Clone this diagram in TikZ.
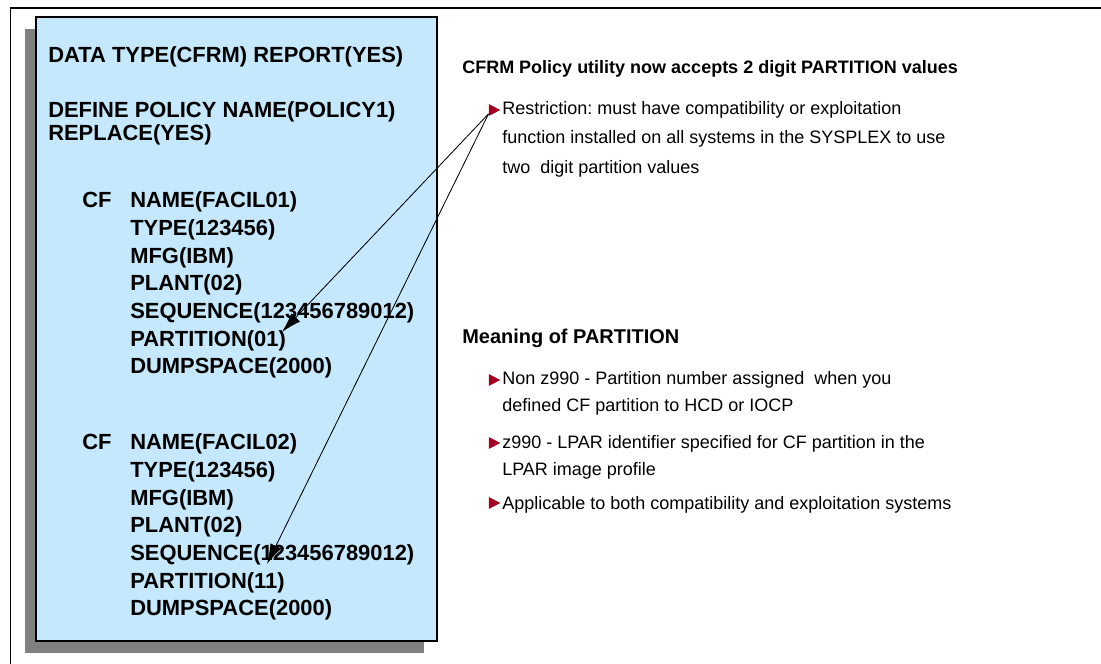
\documentclass[tikz,border=0pt]{standalone}
\usepackage{fontspec}
\setmainfont{Liberation Sans}
\usepackage{tikz}
\usetikzlibrary{arrows.meta, shapes.geometric}
\usepackage{xcolor}
\definecolor{policyblue}{RGB}{197, 232, 252}
\definecolor{shadowgray}{RGB}{128, 128, 128}
\definecolor{bulletred}{RGB}{165, 0, 33}
\frenchspacing

\begin{document}
\begin{tikzpicture}[scale=1.0,
	cfgline/.style={font=\fontsize{15.6}{19.7}\selectfont\bfseries, align=left, inner sep=0pt},
	notetext/.style={font=\fontsize{12.8}{19.2}\selectfont, align=left, inner sep=0pt},
	tribullet/.style={isosceles triangle, isosceles triangle stretches, fill=bulletred,
		inner sep=0pt, minimum width=0.3cm, minimum height=0.29cm},
	pointer/.style={-{Latex[length=0.5cm, width=0.3cm]}, line width=0.6pt}]
	\useasboundingbox (0,0) rectangle (27.525,16.6);
	% page frame, top and left only
	\draw[line width=0.8pt] (0.26,0) -- (0.26,16.4) -- (27.525,16.4);
	% policy box with its shadow
	\fill[shadowgray] (0.625,0.275) rectangle (10.6,15.875);
	\draw[fill=policyblue, line width=0.8pt] (0.9,0.575) rectangle (10.925,16.175);
	\node[cfgline, anchor=base west] (datal) at (1.2, 15.04)
	{DATA TYPE(CFRM) REPORT(YES)};
	\node[cfgline, anchor=north west] (defl) at (1.2, 14.0625)
	{DEFINE POLICY NAME(POLICY1)\\[-0.12cm]REPLACE(YES)};
	% first coupling facility
	\node[cfgline, anchor=base west] (cf1) at (2.05, 11.41) {CF};
	\node[cfgline, anchor=north west] (fac1) at (3.25, 11.8125)
	{NAME(FACIL01)\\TYPE(123456)\\MFG(IBM)\\PLANT(02)\\SEQUENCE(123456789012)\\PARTITION(01)\\DUMPSPACE(2000)};
	% second coupling facility
	\node[cfgline, anchor=base west] (cf2) at (2.05, 5.36) {CF};
	\node[cfgline, anchor=north west] (fac2) at (3.25, 5.7625)
	{NAME(FACIL02)\\TYPE(123456)\\MFG(IBM)\\PLANT(02)\\SEQUENCE(123456789012)\\PARTITION(11)\\DUMPSPACE(2000)};
	% right hand notes
	\node[font=\fontsize{12.8}{15}\selectfont\bfseries, inner sep=0pt, anchor=base west] (head1)
	at (11.55, 14.7625) {CFRM Policy utility now accepts 2 digit PARTITION values};
	\node[tribullet] (b1) at (12.31, 13.85) {};
	\node[notetext, font=\fontsize{12.8}{20.9}\selectfont, anchor=north west] (t1) at (12.55, 14.075)
	{Restriction: must have compatibility or exploitation\\function installed on all systems in the SYSPLEX to use\\two\ \ digit partition values};
	\node[font=\fontsize{14.2}{17}\selectfont\bfseries, inner sep=0pt, anchor=base west] (head2)
	at (11.55, 8.0) {Meaning of PARTITION};
	\node[tribullet] (b2) at (12.31, 7.1) {};
	\node[notetext, anchor=north west] (t2) at (12.55, 7.325)
	{Non z990 - Partition number assigned\ \ when you\\defined CF partition to HCD or IOCP};
	\node[tribullet] (b3) at (12.31, 5.525) {};
	\node[notetext, anchor=north west] (t3) at (12.55, 5.725)
	{z990 - LPAR identifier specified for CF partition in the\\LPAR image profile};
	\node[tribullet] (b4) at (12.31, 4.025) {};
	\node[notetext, anchor=north west] (t4) at (12.55, 4.2)
	{Applicable to both compatibility and exploitation systems};
	% pointers from the restriction to both PARTITION values
	\coordinate (tip1) at (7.05, 8.3);
	\coordinate (tip2) at (6.675, 2.5);
	\draw[pointer] (b1.south west) -- (tip1);
	\draw[pointer] (b1.south west) -- (tip2);
\end{tikzpicture}
\end{document}
